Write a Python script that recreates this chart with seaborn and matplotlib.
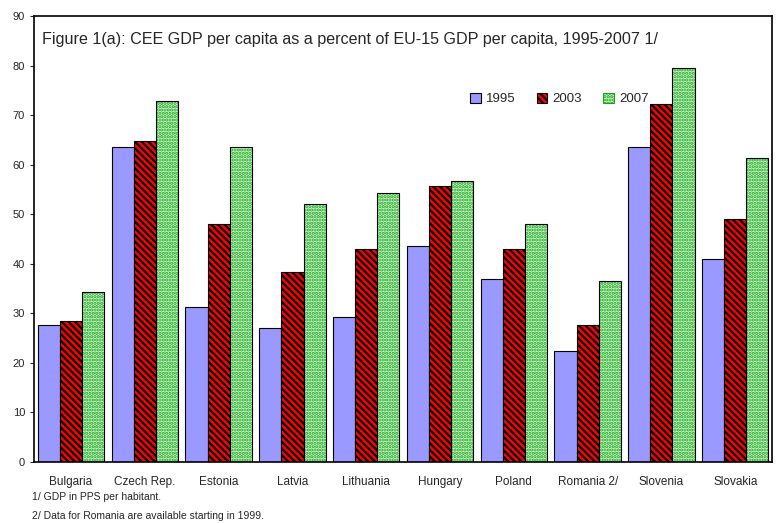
import pandas as pd
import matplotlib.pyplot as plt
import seaborn as sns
from matplotlib.patches import Patch, Rectangle

countries = ['Bulgaria', 'Czech Rep.', 'Estonia', 'Latvia', 'Lithuania',
             'Hungary', 'Poland', 'Romania 2/', 'Slovenia', 'Slovakia']
years = ['1995', '2003', '2007']
gdp_1995 = [27.6, 63.5, 31.2, 27.0, 29.3, 43.5, 37.0, 22.4, 63.5, 41.0]
gdp_2003 = [28.5, 64.7, 48.1, 38.3, 43.0, 55.7, 43.0, 27.6, 72.3, 49.0]
gdp_2007 = [34.3, 72.8, 63.5, 52.0, 54.2, 56.7, 48.1, 36.5, 79.5, 61.3]

df = pd.DataFrame({'country': countries * 3,
                   'year': [y for y in years for _ in countries],
                   'value': gdp_1995 + gdp_2003 + gdp_2007})

sns.set_style('white')
plt.rcParams['font.family'] = ['Liberation Sans', 'DejaVu Sans']
plt.rcParams['hatch.linewidth'] = 1.6

fills = {'1995': '#9999FF', '2003': '#FF0000', '2007': '#CCFFCC'}
hatches = {'1995': '', '2003': '\\' * 5, '2007': '.' * 5}
hatch_cols = {'1995': 'black', '2003': 'black', '2007': '#1E9E1E'}

fig = plt.figure(figsize=(7.76, 5.23), dpi=100)
ax = fig.add_axes([0.044, 0.117, 0.951, 0.852])
sns.barplot(data=df, x='country', y='value', hue='year', palette=fills,
            width=0.9, ax=ax, legend=False, saturation=1)

# patterns: plain blue, black-striped red, green-dotted pale green
for cont, yr in zip(ax.containers, years):
    for p in cont:
        p.set_hatch(hatches[yr])
        p.set_edgecolor(hatch_cols[yr])
        p.set_linewidth(0.8 if yr != '2007' else 0)
        if yr == '2007':
            ax.add_patch(Rectangle(p.get_xy(), p.get_width(), p.get_height(),
                                   fill=False, edgecolor='black', linewidth=0.8))

ax.set_ylim(0, 90)
ax.set_xlim(-0.5, 9.5)
ax.set_yticks(range(0, 91, 10))
ax.set_xlabel('')
ax.set_ylabel('')
ax.tick_params(axis='y', labelsize=8, length=3, direction='out', left=True)
ax.tick_params(axis='x', labelsize=8.5, length=0, pad=10)
for s in ax.spines.values():
    s.set_color('black')
    s.set_linewidth(1.2)

ax.text(0.011, 0.965, 'Figure 1(a): CEE GDP per capita as a percent of EU-15 GDP per capita, 1995-2007 1/',
        transform=ax.transAxes, fontsize=11.6, va='top', ha='left')

handles = [Patch(facecolor=fills[y], edgecolor=hatch_cols[y], hatch=hatches[y], linewidth=0.8)
           for y in years]
ax.legend(handles, years, loc='upper left', bbox_to_anchor=(0.575, 0.855), ncol=3,
          frameon=False, fontsize=9.5, handlelength=0.8, handleheight=0.8,
          columnspacing=1.6, handletextpad=0.4)

fig.text(0.041, 0.049, '1/ GDP in PPS per habitant.', fontsize=7.5, ha='left', va='center')
fig.text(0.041, 0.014, '2/ Data for Romania are available starting in 1999.', fontsize=7.5,
         ha='left', va='center')

fig.savefig('out.png', dpi=100)
